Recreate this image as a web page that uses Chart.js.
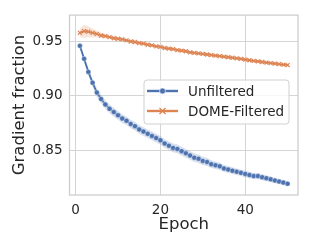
<!DOCTYPE html>
<html>
<head>
<meta charset="utf-8">
<script src="https://cdn.jsdelivr.net/npm/chart.js@4/dist/chart.umd.min.js"></script>
<style>
body { margin: 0; background: #fff; }
</style>
</head>
<body>
<canvas id="gradChart" width="309" height="247"></canvas>
<script>
// Values
const epochs = [1, 2, 3, 4, 5, 6, 7, 8, 9, 10, 11, 12, 13, 14, 15, 16, 17, 18, 19, 20,
  21, 22, 23, 24, 25, 26, 27, 28, 29, 30, 31, 32, 33, 34, 35, 36, 37, 38, 39, 40,
  41, 42, 43, 44, 45, 46, 47, 48, 49, 50];

const unfiltered = [0.946, 0.934, 0.922, 0.912, 0.903, 0.897, 0.892, 0.888, 0.885, 0.882,
  0.879, 0.877, 0.874, 0.872, 0.869, 0.867, 0.865, 0.863, 0.861, 0.859,
  0.856, 0.854, 0.852, 0.851, 0.849, 0.847, 0.845, 0.843, 0.842, 0.840,
  0.839, 0.837, 0.836, 0.835, 0.833, 0.832, 0.831, 0.830, 0.829, 0.828,
  0.827, 0.826, 0.826, 0.825, 0.824, 0.823, 0.822, 0.821, 0.820, 0.819];

const domeFiltered = [0.958, 0.9595, 0.959, 0.958, 0.957, 0.9555, 0.955, 0.954, 0.953, 0.9525,
  0.952, 0.951, 0.950, 0.9495, 0.9485, 0.948, 0.947, 0.9465, 0.9455, 0.945,
  0.944, 0.9435, 0.943, 0.942, 0.9415, 0.941, 0.940, 0.9395, 0.939, 0.9385,
  0.938, 0.9375, 0.937, 0.9365, 0.936, 0.9355, 0.935, 0.9345, 0.934, 0.9333,
  0.9327, 0.9321, 0.9316, 0.9311, 0.9306, 0.9301, 0.9296, 0.9291, 0.9287, 0.9283];

// half width of the shaded confidence band
const unfilteredBand = [0.002, 0.0025, 0.003, 0.0035, 0.004, 0.004, 0.004, 0.004, 0.004, 0.004,
  0.004, 0.004, 0.004, 0.004, 0.004, 0.004, 0.004, 0.004, 0.004, 0.004,
  0.004, 0.004, 0.004, 0.004, 0.004, 0.004, 0.004, 0.004, 0.004, 0.0038,
  0.0037, 0.0036, 0.0035, 0.0034, 0.0033, 0.0032, 0.0031, 0.003, 0.003, 0.003,
  0.0029, 0.0028, 0.0028, 0.0027, 0.0027, 0.0026, 0.0026, 0.0025, 0.0025, 0.0025];

const domeBand = [0.004, 0.006, 0.005, 0.004, 0.003, 0.0025, 0.002, 0.0018, 0.0016, 0.0015,
  0.0015, 0.0015, 0.0015, 0.0015, 0.0015, 0.0015, 0.0015, 0.0015, 0.0015, 0.0015,
  0.0015, 0.0015, 0.0015, 0.0015, 0.0015, 0.0015, 0.0015, 0.0015, 0.0015, 0.0015,
  0.0015, 0.0015, 0.0015, 0.0015, 0.0015, 0.0015, 0.0015, 0.0015, 0.0015, 0.0015,
  0.0015, 0.0015, 0.0015, 0.0015, 0.0015, 0.0015, 0.0015, 0.0015, 0.0015, 0.0015];

const xTicks = [0, 20, 40];
const yTicks = [0.85, 0.90, 0.95];

const BLUE = '#4c72b0';
const ORANGE = '#dd8452';
const FONT = 'DejaVu Sans';

function pts(ys, shift, sign) {
  return epochs.map((e, i) => ({ x: e, y: ys[i] + (shift ? sign * shift[i] : 0) }));
}

// frame around the plot (seaborn whitegrid spines)
const framePlugin = {
  id: 'frame',
  beforeDatasetsDraw(chart) {
    const a = chart.chartArea;
    const ctx = chart.ctx;
    ctx.save();
    ctx.strokeStyle = '#cccccc';
    ctx.lineWidth = 1.25;
    ctx.strokeRect(a.left, a.top, a.right - a.left, a.bottom - a.top);
    ctx.restore();
  }
};

// legend box inside the plot
const legendPlugin = {
  id: 'boxLegend',
  afterDraw(chart) {
    const ctx = chart.ctx;
    ctx.save();
    ctx.beginPath();
    ctx.roundRect(144, 80, 145, 44, 3);
    ctx.fillStyle = 'rgba(255,255,255,0.8)';
    ctx.fill();
    ctx.strokeStyle = '#d0d0d0';
    ctx.lineWidth = 1;
    ctx.stroke();

    const entries = [
      { label: 'Unfiltered', color: BLUE, y: 91, marker: 'circle' },
      { label: 'DOME-Filtered', color: ORANGE, y: 111, marker: 'x' }
    ];
    entries.forEach(en => {
      ctx.strokeStyle = en.color;
      ctx.lineWidth = 2.4;
      ctx.beginPath();
      ctx.moveTo(147, en.y);
      ctx.lineTo(178, en.y);
      ctx.stroke();
      if (en.marker === 'circle') {
        ctx.fillStyle = en.color;
        ctx.strokeStyle = '#ffffff';
        ctx.lineWidth = 0.6;
        ctx.beginPath();
        ctx.arc(162.5, en.y, 3, 0, Math.PI * 2);
        ctx.fill();
        ctx.stroke();
      } else {
        ctx.lineWidth = 1.3;
        ctx.strokeStyle = en.color;
        ctx.beginPath();
        ctx.moveTo(159.5, en.y - 3); ctx.lineTo(165.5, en.y + 3);
        ctx.moveTo(165.5, en.y - 3); ctx.lineTo(159.5, en.y + 3);
        ctx.stroke();
      }
      ctx.fillStyle = '#262626';
      ctx.font = '13.5px "' + FONT + '"';
      ctx.textBaseline = 'middle';
      ctx.fillText(en.label, 188, en.y + 1);
    });
    ctx.restore();
  }
};

const ctx = document.getElementById('gradChart').getContext('2d');

const gradChart = new Chart(ctx, {
  type: 'line',
  data: {
    datasets: [
      {
        label: 'Unfiltered',
        data: pts(unfiltered),
        borderColor: BLUE,
        backgroundColor: BLUE,
        borderWidth: 1.8,
        pointRadius: 2.5,
        pointBorderColor: 'rgba(255,255,255,0.7)',
        pointBorderWidth: 0.5,
        pointBackgroundColor: BLUE,
        fill: false
      },
      {
        label: 'DOME-Filtered',
        data: pts(domeFiltered),
        borderColor: ORANGE,
        backgroundColor: ORANGE,
        borderWidth: 1.6,
        pointStyle: 'crossRot',
        pointRadius: 2.8,
        pointBorderColor: ORANGE,
        pointBorderWidth: 1.2,
        fill: false
      },
      {
        data: pts(unfiltered, unfilteredBand, 1),
        borderWidth: 0, pointRadius: 0, fill: false
      },
      {
        data: pts(unfiltered, unfilteredBand, -1),
        borderWidth: 0, pointRadius: 0,
        fill: 2,
        backgroundColor: 'rgba(76,114,176,0.22)'
      },
      {
        data: pts(domeFiltered, domeBand, 1),
        borderWidth: 0, pointRadius: 0, fill: false
      },
      {
        data: pts(domeFiltered, domeBand, -1),
        borderWidth: 0, pointRadius: 0,
        fill: 4,
        backgroundColor: 'rgba(221,132,82,0.22)'
      }
    ]
  },
  options: {
    responsive: false,
    animation: false,
    layout: { padding: { top: 11, right: 11, left: 0, bottom: 0 } },
    plugins: {
      legend: { display: false },
      tooltip: { enabled: false }
    },
    scales: {
      x: {
        type: 'linear',
        min: -1.45,
        max: 52.45,
        afterBuildTicks: axis => { axis.ticks = xTicks.map(v => ({ value: v })); },
        afterFit: axis => { axis.height = 52; },
        grid: { color: '#d5d5d5', lineWidth: 1, drawTicks: false },
        border: { display: false },
        ticks: {
          padding: 7,
          color: '#262626',
          font: { family: FONT, size: 13.5 },
          maxRotation: 0,
          callback: v => String(v)
        },
        title: {
          display: true,
          text: 'Epoch',
          color: '#262626',
          font: { family: FONT, size: 16.5 },
          padding: { top: 0, bottom: 12 }
        }
      },
      y: {
        min: 0.8086,
        max: 0.9743,
        afterBuildTicks: axis => { axis.ticks = yTicks.map(v => ({ value: v })); },
        afterFit: axis => { axis.width = 69.5; },
        grid: { color: '#d5d5d5', lineWidth: 1, drawTicks: false },
        border: { display: false },
        ticks: {
          padding: 7,
          color: '#262626',
          font: { family: FONT, size: 13.5 },
          callback: v => v.toFixed(2)
        },
        title: {
          display: true,
          text: 'Gradient fraction',
          color: '#262626',
          font: { family: FONT, size: 16.5 },
          padding: { top: 10, bottom: 0 }
        }
      }
    }
  },
  plugins: [framePlugin, legendPlugin]
});
</script>
</body>
</html>
